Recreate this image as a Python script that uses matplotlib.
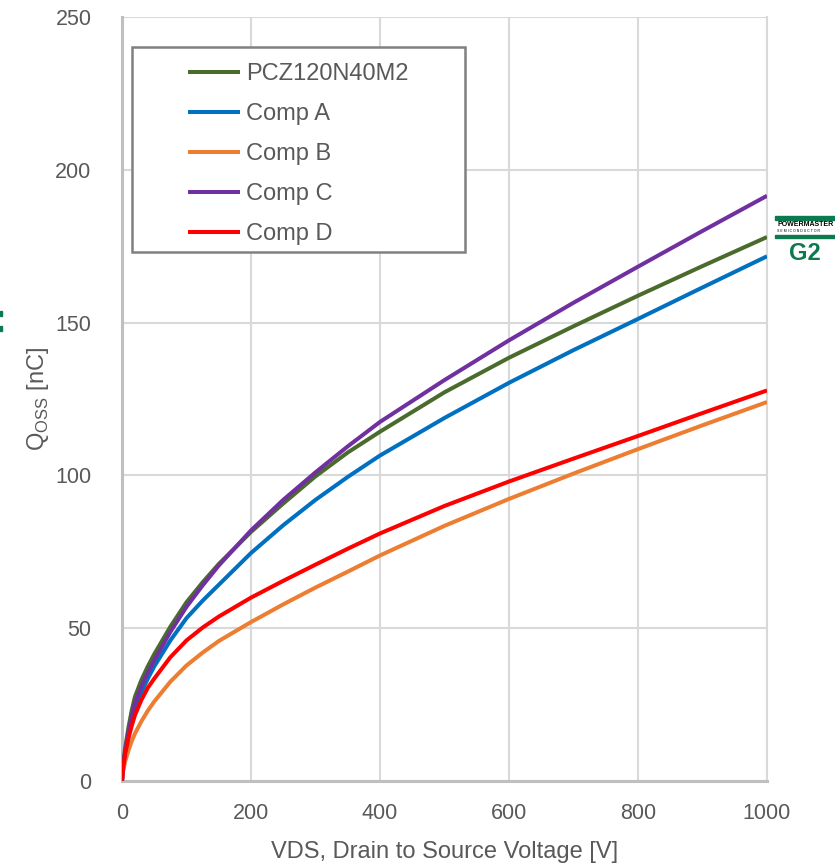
import matplotlib
matplotlib.use("Agg")
import matplotlib.pyplot as plt
from matplotlib.patches import Rectangle

plt.rcParams['font.family'] = ['Liberation Sans', 'DejaVu Sans']

# Qoss vs VDS, read per device
vds = [0, 2, 5, 10, 15, 20, 30, 40, 50, 75, 100, 125, 150, 200, 250, 300, 350, 400,
       500, 600, 700, 800, 900, 1000]
q_pcz = [0, 6, 11, 17.5, 23, 27.5, 33, 37.5, 41.5, 50.5, 58.5, 65, 71, 81.5, 90.8, 99.7,
         107.5, 114.3, 127.2, 138.5, 148.8, 158.8, 168.5, 178]
q_comp_a = [0, 4.5, 9, 14.5, 19.5, 23.5, 29, 33.5, 37.5, 46, 53.3, 59, 64.2, 74.6, 83.7, 92,
            99.5, 106.5, 118.8, 130.3, 141, 151.2, 161.5, 171.7]
q_comp_b = [0, 3.5, 6.5, 10, 13, 15.5, 19.5, 23, 26, 32.5, 37.8, 42, 45.8, 52, 57.8, 63.3,
            68.5, 73.8, 83.5, 92.3, 100.6, 108.6, 116.4, 124]
q_comp_c = [0, 5, 10, 16, 21, 25.5, 31, 35.5, 39.5, 48.8, 57, 64, 70.5, 82, 92, 101,
            109.5, 117.5, 131.2, 144.2, 156.5, 168.3, 180, 191.5]
q_comp_d = [0, 5, 9, 14, 18, 21.5, 26.5, 30.5, 33.5, 40.5, 46, 50.2, 53.8, 60, 65.5, 70.8,
            76, 81, 90, 98, 105.5, 112.9, 120.4, 127.8]

labels = ['PCZ120N40M2', 'Comp A', 'Comp B', 'Comp C', 'Comp D']
series = [q_pcz, q_comp_a, q_comp_b, q_comp_c, q_comp_d]
colors = ['#4a6b2c', '#0070c0', '#ed7d31', '#7030a0', '#ff0000']

txt = '#595959'

fig = plt.figure(figsize=(8.35, 8.65), dpi=100)
ax = fig.add_axes([122 / 835, 1 - 781 / 865, 645 / 835, 764 / 865])

for y, c, lab in zip(series, colors, labels):
    ax.plot(vds, y, color=c, lw=2.9, label=lab, solid_capstyle='butt',
            solid_joinstyle='round', zorder=3)

ax.set_xlim(0, 1000)
ax.set_ylim(0, 250)
ax.set_xticks(range(0, 1001, 200))
ax.set_yticks(range(0, 251, 50))
ax.grid(True, color='#d9d9d9', lw=1.5, zorder=0)
ax.tick_params(length=0, labelsize=15.5, colors=txt)
ax.tick_params(axis='x', pad=16)
ax.tick_params(axis='y', pad=22)
ax.spines['top'].set_visible(False)
ax.spines['right'].set_color('#d9d9d9')
ax.spines['right'].set_linewidth(1.5)
for s in ['left', 'bottom']:
    ax.spines[s].set_color('#bfbfbf')
    ax.spines[s].set_linewidth(2.2)

ax.set_xlabel('VDS, Drain to Source Voltage [V]', fontsize=17, color=txt, labelpad=12)
ax.set_ylabel(r'Q$_{\mathregular{OSS}}$ [nC]', fontsize=17, color=txt, labelpad=3)

# legend box
box = Rectangle((10 / 645, (781 - 252) / 764), 333 / 645, 205 / 764, transform=ax.transAxes,
                facecolor='white', edgecolor='#808080', lw=1.8, zorder=4)
ax.add_patch(box)
leg = ax.legend(loc='upper left', bbox_to_anchor=((188 - 122) / 645, (781 - 63) / 764),
                frameon=False, fontsize=17, handlelength=2.2, handletextpad=0.25,
                labelspacing=0.76, borderpad=0, borderaxespad=0)
leg.set_zorder(5)
for t in leg.get_texts():
    t.set_color(txt)

# logo at the right edge
green = '#0b7a4e'
fig.patches.append(Rectangle((775 / 835, 1 - 220 / 865), 60 / 835, 4 / 865,
                             transform=fig.transFigure, color=green, figure=fig))
fig.patches.append(Rectangle((775 / 835, 1 - 238 / 865), 60 / 835, 3 / 865,
                             transform=fig.transFigure, color=green, figure=fig))
fig.text(777 / 835, 1 - 225 / 865, 'POWERMASTER', fontsize=5, fontweight='bold',
         color='black', va='center', ha='left')
fig.text(777 / 835, 1 - 231 / 865, 'S E M I C O N D U C T O R', fontsize=2.5,
         color='black', va='center', ha='left')
fig.text(805 / 835, 1 - 253 / 865, 'G2', fontsize=17, fontweight='bold',
         color=green, va='center', ha='center')

# clipped marks at the left edge
fig.patches.append(Rectangle((0, 1 - 316 / 865), 1.5 / 835, 5 / 865,
                             transform=fig.transFigure, color=green, figure=fig))
fig.patches.append(Rectangle((0, 1 - 331 / 865), 1.5 / 835, 5 / 865,
                             transform=fig.transFigure, color=green, figure=fig))

fig.savefig('out.png', dpi=100)
